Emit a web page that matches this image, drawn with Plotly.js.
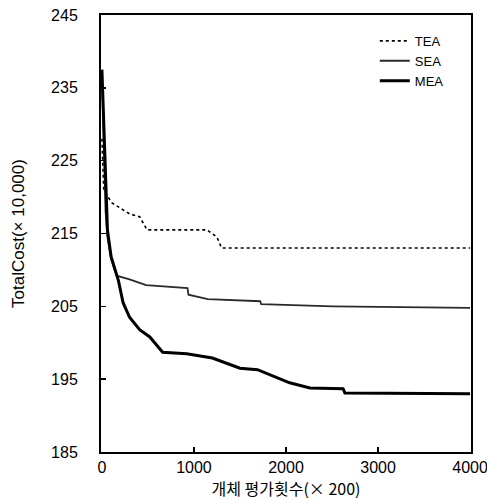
<!DOCTYPE html>
<html>
<head>
<meta charset="utf-8">
<script src="https://cdn.plot.ly/plotly-3.0.1.min.js"></script>
<style>html,body{margin:0;padding:0;background:#fff;}</style>
</head>
<body>
<div id="chart" style="width:487px;height:500px;"></div>
<script>
// Data
const seriesNames = ["TEA", "SEA", "MEA"];

const teaX = [0, 20, 50, 110, 300, 410, 490, 1140, 1250, 1300, 4000];
const teaY = [228, 221, 220.3, 219.2, 217.7, 217.3, 215.5, 215.5, 214.5, 213.0, 213.0];

const seaX = [0, 20, 40, 60, 100, 160, 300, 480, 760, 930, 940, 1150, 1720, 1730, 2510, 3270, 4000];
const seaY = [237, 228, 218, 214.5, 211.5, 209.2, 208.7, 207.9, 207.6, 207.5, 206.6, 206.0, 205.7, 205.3, 205.0, 204.9, 204.8];

const meaX = [0, 20, 40, 60, 100, 150, 180, 230, 300, 410, 520, 660, 920, 1200, 1500, 1690, 2040, 2260, 2620, 2640, 4000];
const meaY = [237.5, 230, 220, 215.5, 211.8, 209.8, 208.5, 205.5, 203.5, 201.8, 200.8, 198.7, 198.5, 197.9, 196.5, 196.3, 194.5, 193.8, 193.7, 193.1, 193.0];

const xTicks = [0, 1000, 2000, 3000, 4000];
const yTicks = [185, 195, 205, 215, 225, 235, 245];

const xTitle = "개체 평가횟수(× 200)";
const yTitle = "TotalCost(× 10,000)";

const traces = [
  {x: teaX, y: teaY, name: seriesNames[0], mode: "lines",
   line: {color: "#000", width: 1.6, dash: "dot"}},
  {x: seaX, y: seaY, name: seriesNames[1], mode: "lines",
   line: {color: "#2a2a2a", width: 1.8}},
  {x: meaX, y: meaY, name: seriesNames[2], mode: "lines",
   line: {color: "#000", width: 3}}
];

const axisFont = {family: "Liberation Sans, Arial, sans-serif", size: 16, color: "#000"};

const layout = {
  width: 487, height: 500,
  margin: {l: 101, r: 16, t: 15, b: 48},
  paper_bgcolor: "#fff", plot_bgcolor: "#fff",
  showlegend: true,
  legend: {
    x: 0.74, y: 0.975, xanchor: "left", yanchor: "top",
    bgcolor: "rgba(0,0,0,0)", borderwidth: 0,
    font: {family: "Liberation Sans, Arial, sans-serif", size: 13, color: "#000"},
    tracegroupgap: 0, itemwidth: 30
  },
  xaxis: {
    range: [-10, 4010], tickvals: xTicks, ticktext: xTicks.map(String),
    showgrid: false, zeroline: false,
    showline: true, linecolor: "#000", linewidth: 2, mirror: true,
    ticks: "inside", ticklen: 5, tickcolor: "#000", tickwidth: 1.5,
    tickfont: axisFont, ticklabeloverflow: "allow",
    title: {text: xTitle, font: {family: "Noto Sans CJK KR, sans-serif", size: 16, color: "#000"}, standoff: 6}
  },
  yaxis: {
    range: [185, 245], tickvals: yTicks, ticktext: yTicks.map(String),
    showgrid: false, zeroline: false,
    showline: true, linecolor: "#000", linewidth: 2, mirror: true,
    ticks: "inside", ticklen: 5, tickcolor: "#000", tickwidth: 1.5,
    tickfont: axisFont, ticklabelstandoff: 18,
    title: {text: yTitle, font: {family: "Liberation Sans, Arial, sans-serif", size: 17, color: "#000"}, standoff: 22}
  }
};

Plotly.newPlot("chart", traces, layout, {displayModeBar: false, staticPlot: true});
</script>
</body>
</html>
